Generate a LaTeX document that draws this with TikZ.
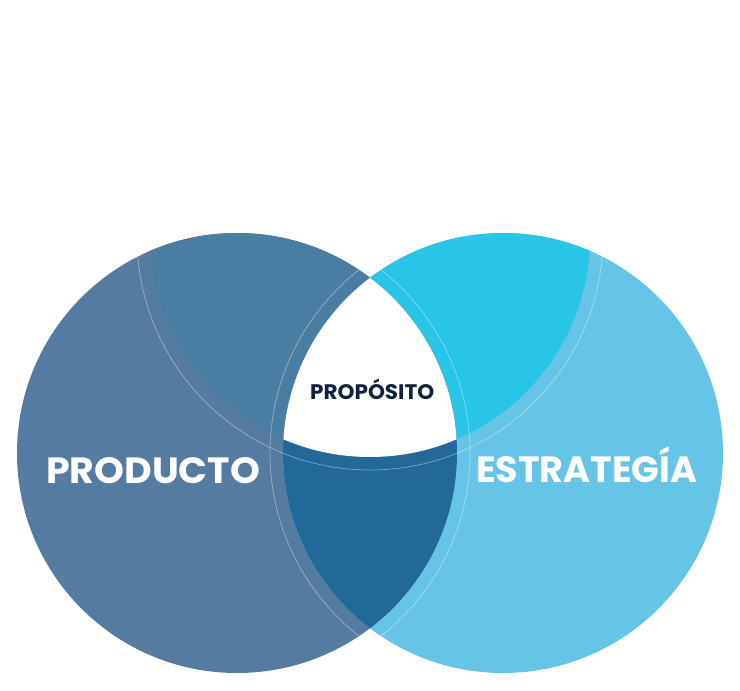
\documentclass[tikz,border=0pt]{standalone}
\usepackage{fontspec}
\setmainfont{Poppins}
\usepackage{graphicx}
\definecolor{cL}{RGB}{86,123,160}
\definecolor{cLT}{RGB}{74,125,162}
\definecolor{cD}{RGB}{34,104,153}
\definecolor{cR}{RGB}{102,197,231}
\definecolor{cRT}{RGB}{41,197,231}
\definecolor{navy}{RGB}{20,33,61}
\tikzset{
  ring/.style={draw=white, draw opacity=0.4, line width=0.7pt},
  biglabel/.style={inner sep=0pt, text=white, font=\bfseries},
  smalllabel/.style={inner sep=0pt, text=navy, font=\bfseries}
}
\begin{document}
\begin{tikzpicture}[x=1pt,y=-1pt]
\useasboundingbox (0,0) rectangle (740,691);
\coordinate (cl) at (237,453);
\coordinate (cr) at (503,453);
\coordinate (ct) at (370,237);
\fill[cL] (cl) circle[radius=220pt];
\fill[cR] (cr) circle[radius=220pt];
\begin{scope}
  \clip (cl) circle[radius=220pt];
  \fill[cLT] (ct) circle[radius=220pt];
\end{scope}
\begin{scope}
  \clip (cr) circle[radius=220pt];
  \fill[cRT] (ct) circle[radius=220pt];
\end{scope}
\begin{scope}
  \clip (cl) circle[radius=220pt];
  \clip (cr) circle[radius=220pt];
  \fill[cD] (cr) circle[radius=220pt];
  \clip (ct) circle[radius=220pt];
  \fill[white] (ct) circle[radius=220pt];
\end{scope}
\draw[ring] (cl) circle[radius=233pt];
\draw[ring] (cr) circle[radius=233pt];
\draw[ring] (ct) circle[radius=233pt];
\node[biglabel, anchor=base west] (prod) at (46,483)
  {\resizebox{214pt}{26pt}{PRODUCTO}};
\node[biglabel, anchor=base west] (estr) at (476,482)
  {\resizebox{221pt}{26pt}{\rlap{\smash{ESTRATEGÍA}}\phantom{ESTRATEGIA}}};
\node[smalllabel, anchor=base west] (prop) at (310,399)
  {\resizebox{124pt}{15pt}{\rlap{\smash{PROPÓSITO}}\phantom{PROPOSITO}}};
\end{tikzpicture}
\end{document}
